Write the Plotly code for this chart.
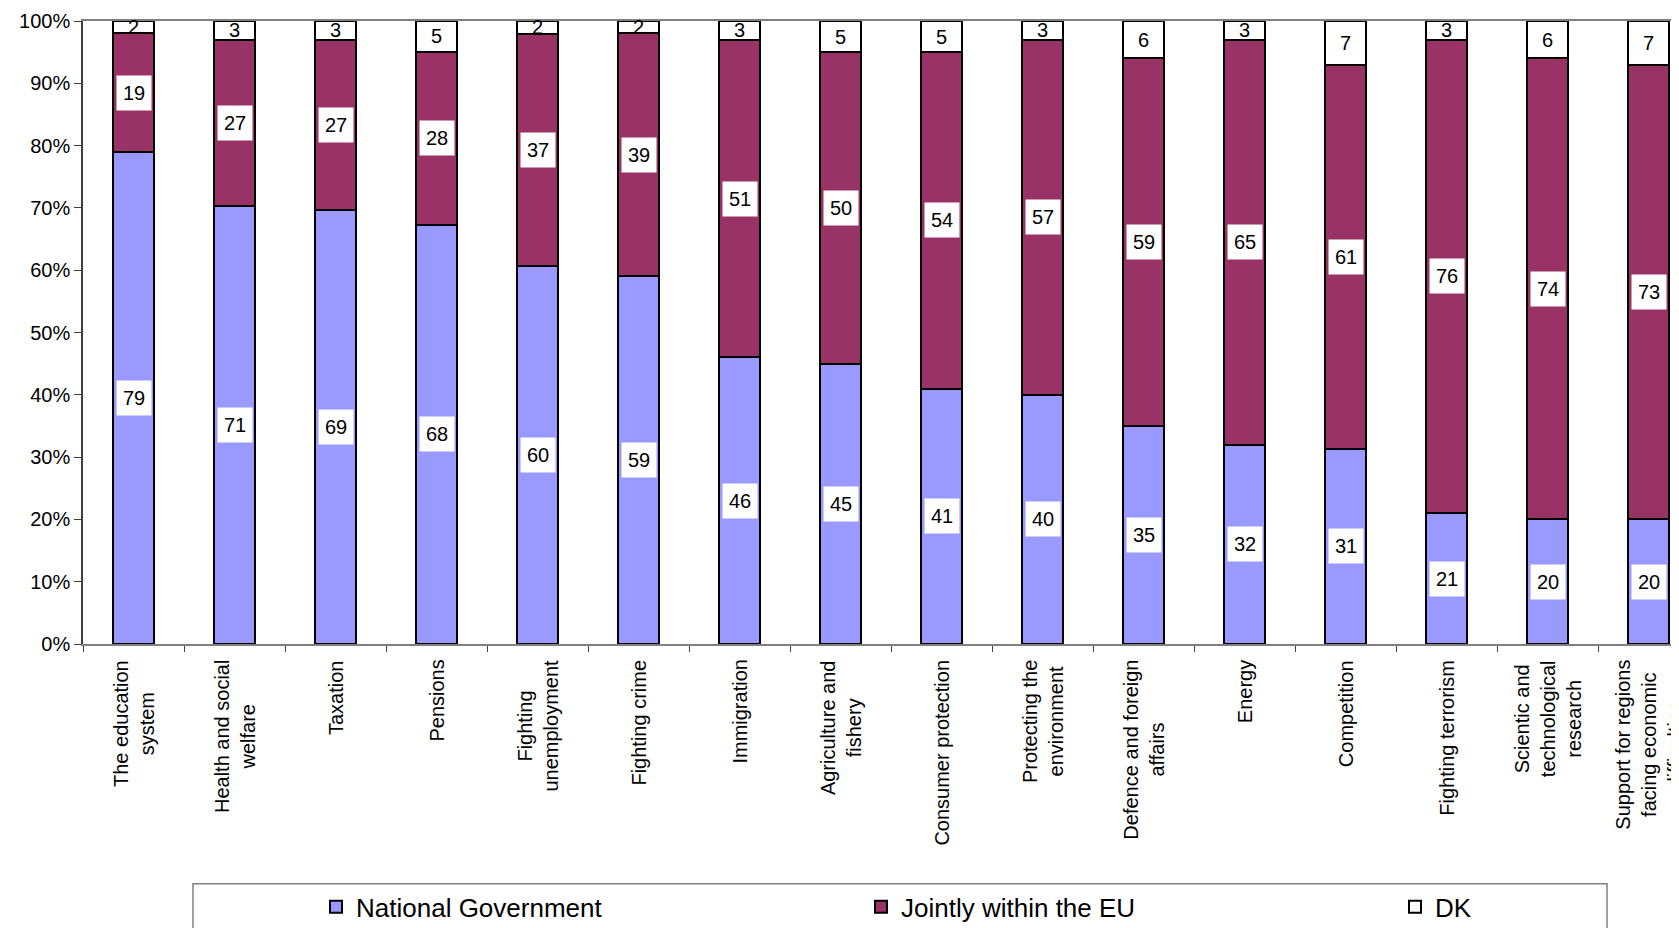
import plotly.graph_objects as go

categories = [
    "The education<br>system", "Health and social<br>welfare", "Taxation", "Pensions",
    "Fighting<br>unemployment", "Fighting crime", "Immigration", "Agriculture and<br>fishery",
    "Consumer protection", "Protecting the<br>environment", "Defence and foreign<br>affairs",
    "Energy", "Competition", "Fighting terrorism",
    "Scientic and<br>technological<br>research", "Support for regions<br>facing economic<br>difficulties",
]
national = [79, 71, 69, 68, 60, 59, 46, 45, 41, 40, 35, 32, 31, 21, 20, 20]
jointly = [19, 27, 27, 28, 37, 39, 51, 50, 54, 57, 59, 65, 61, 76, 74, 73]
dk = [2, 3, 3, 5, 2, 2, 3, 5, 5, 3, 6, 3, 7, 3, 6, 7]
y_ticks = list(range(0, 101, 10))
y_tick_labels = [f"{v}%" for v in y_ticks]

series = [
    ("National Government", national, "#9999FF", 500),
    ("Jointly within the EU", jointly, "#993366", 489),
    ("DK", dk, "#FFFFFF", 60),
]

FONT = "Liberation Sans, Arial, sans-serif"

fig = go.Figure()
for name, vals, color, lw in series:
    fig.add_bar(
        x=categories, y=vals, name=name, width=0.4, legendwidth=lw,
        marker=dict(color=color, line=dict(color="#000000", width=2)),
        hoverinfo="skip",
    )

annotations = []
# value labels at the centre of each (normalised) segment
for i, cat in enumerate(categories):
    total = national[i] + jointly[i] + dk[i]
    base = 0.0
    for k, (name, vals, color, lw) in enumerate(series):
        v = vals[i]
        mid = (base + v / 2) / total * 100
        base += v
        ann = dict(
            x=cat, y=mid, xref="x", yref="y", text=str(v), showarrow=False,
            font=dict(family=FONT, size=20, color="#000000"),
        )
        if k < 2:
            ann.update(bgcolor="#FFFFFF", borderpad=6)
        annotations.append(ann)

# category labels (rotated, lines centred)
for cat in categories:
    annotations.append(dict(
        x=cat, y=0, xref="x", yref="paper", text=cat, showarrow=False,
        textangle=-90, xanchor="center", yanchor="top", yshift=-14, align="center",
        font=dict(family=FONT, size=20, color="#000000"),
    ))

fig.update_layout(
    width=1671, height=920,
    margin=dict(l=75, r=0, t=13, b=284, autoexpand=False),
    barmode="stack", barnorm="percent",
    plot_bgcolor="#FFFFFF", paper_bgcolor="#FFFFFF",
    font=dict(family=FONT, size=20, color="#000000"),
    annotations=annotations,
    showlegend=True,
    legend=dict(
        orientation="h", x=0.146, xanchor="left", y=-0.422, yanchor="middle",
        font=dict(family=FONT, size=26, color="#000000"),
        entrywidthmode="pixels", traceorder="normal",
        bgcolor="rgba(0,0,0,0)",
    ),
    shapes=[dict(
        type="rect", xref="paper", yref="paper",
        x0=(193 - 83) / 1596, x1=(1607 - 83) / 1596, y0=-0.385, y1=-0.55,
        line=dict(color="#808080", width=1.5), fillcolor="rgba(0,0,0,0)", layer="below",
    )],
)
fig.update_xaxes(
    range=[-0.5, 15.3], tickson="boundaries", ticks="outside", showticklabels=False,
    ticklen=6, tickcolor="#404040", showline=True, linecolor="#808080", linewidth=2,
    mirror=True, showgrid=False, automargin=False,
)
fig.update_yaxes(
    range=[0, 100], tickvals=y_ticks, ticktext=y_tick_labels, ticks="outside",
    ticklen=7, tickcolor="#404040", showline=True, linecolor="#404040", linewidth=1.5,
    showgrid=False, zeroline=False, automargin=False,
    tickfont=dict(family=FONT, size=20, color="#000000"),
)

fig.write_html("out.html")
